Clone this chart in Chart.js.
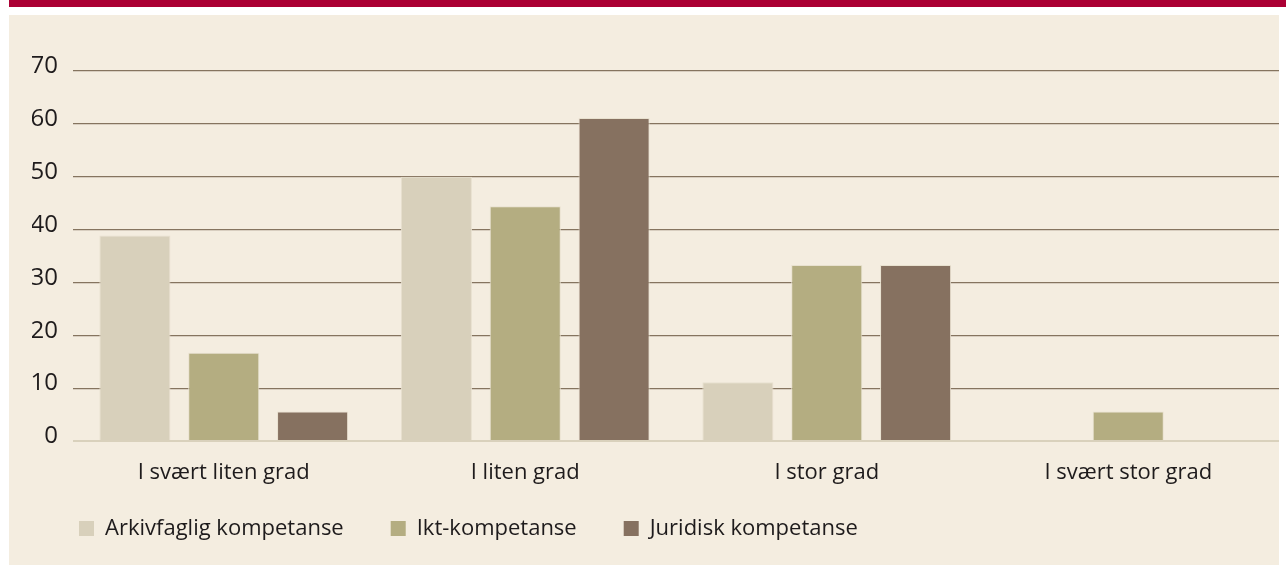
<!DOCTYPE html>
<html>
<head>
<meta charset="utf-8">
<script src="https://cdn.jsdelivr.net/npm/chart.js@4.4.1/dist/chart.umd.min.js"></script>
<style>
  body { margin: 0; background: #ffffff; width: 1286px; height: 565px; overflow: hidden; position: relative; }
  .topbar { position: absolute; left: 9px; top: 0; width: 1277px; height: 7px; background: #ab0034; }
  .panel { position: absolute; left: 9px; top: 15px; width: 1270px; height: 550px; background: #f4ede0; overflow: hidden; }
  canvas { display: block; }
</style>
</head>
<body>
<div class="topbar"></div>
<div class="panel"><canvas id="barChart" width="1270" height="560"></canvas></div>
<script>
// svar i prosent (n = 18)
const categories = ['I svært liten grad', 'I liten grad', 'I stor grad', 'I svært stor grad'];
const arkivfaglig = [38.9, 50.0, 11.1, 0];
const ikt = [16.7, 44.4, 33.3, 5.6];
const juridisk = [5.6, 61.1, 33.3, 0];
const seriesNames = ['Arkivfaglig kompetanse', 'Ikt-kompetanse', 'Juridisk kompetanse'];
const seriesColors = ['#d8d0bb', '#b4ad81', '#867160'];
const yMax = 70;
const yStep = 10;

const textColor = '#1e1b1c';
const fontFamily = "'Open Sans', sans-serif";
const legendTop = 455.5;

const datasets = [arkivfaglig, ikt, juridisk].map((values, i) => ({
  label: seriesNames[i],
  data: values,
  backgroundColor: seriesColors[i],
  borderColor: '#e8e1cf',
  borderWidth: 1,
  categoryPercentage: 0.884,
  barPercentage: 0.8,
}));

// legenden flyttes opp over aksen, slik at x-etikettene ikke klippes
const moveLegend = {
  id: 'moveLegend',
  afterLayout(chart) {
    const lg = chart.legend;
    const h = lg.height;
    lg.top = legendTop;
    lg.bottom = legendTop + h;
  },
};

const ctx = document.getElementById('barChart').getContext('2d');

new Chart(ctx, {
  type: 'bar',
  data: { labels: categories, datasets },
  plugins: [moveLegend],
  options: {
    responsive: false,
    animation: false,
    layout: { padding: { top: 56, left: 23, right: 0, bottom: 0 } },
    plugins: {
      tooltip: { enabled: false },
      legend: {
        position: 'bottom',
        align: 'start',
        labels: {
          boxWidth: 15,
          boxHeight: 15,
          padding: 47,
          color: textColor,
          font: { family: fontFamily, size: 22 },
          generateLabels: (chart) =>
            Chart.defaults.plugins.legend.labels.generateLabels(chart).map(item => ({ ...item, lineWidth: 0 })),
        },
      },
    },
    scales: {
      x: {
        grid: { display: false },
        border: { display: false },
        ticks: {
          color: textColor,
          font: { family: fontFamily, size: 22 },
          padding: 11,
          maxRotation: 0,
        },
        afterFit: (scale) => { scale.height = 55; },
      },
      y: {
        min: 0,
        max: yMax,
        border: { display: false },
        grid: {
          drawTicks: false,
          color: (c) => (c.tick && c.tick.value === 0 ? '#d9d1bc' : '#85745f'),
          lineWidth: (c) => (c.tick && c.tick.value === 0 ? 2 : 1.2),
        },
        ticks: {
          stepSize: yStep,
          color: textColor,
          font: { family: fontFamily, size: 24 },
          padding: 15,
          labelOffset: -4.5,
        },
        afterFit: (scale) => { scale.width = 41; },
      },
    },
  },
});
</script>
</body>
</html>
